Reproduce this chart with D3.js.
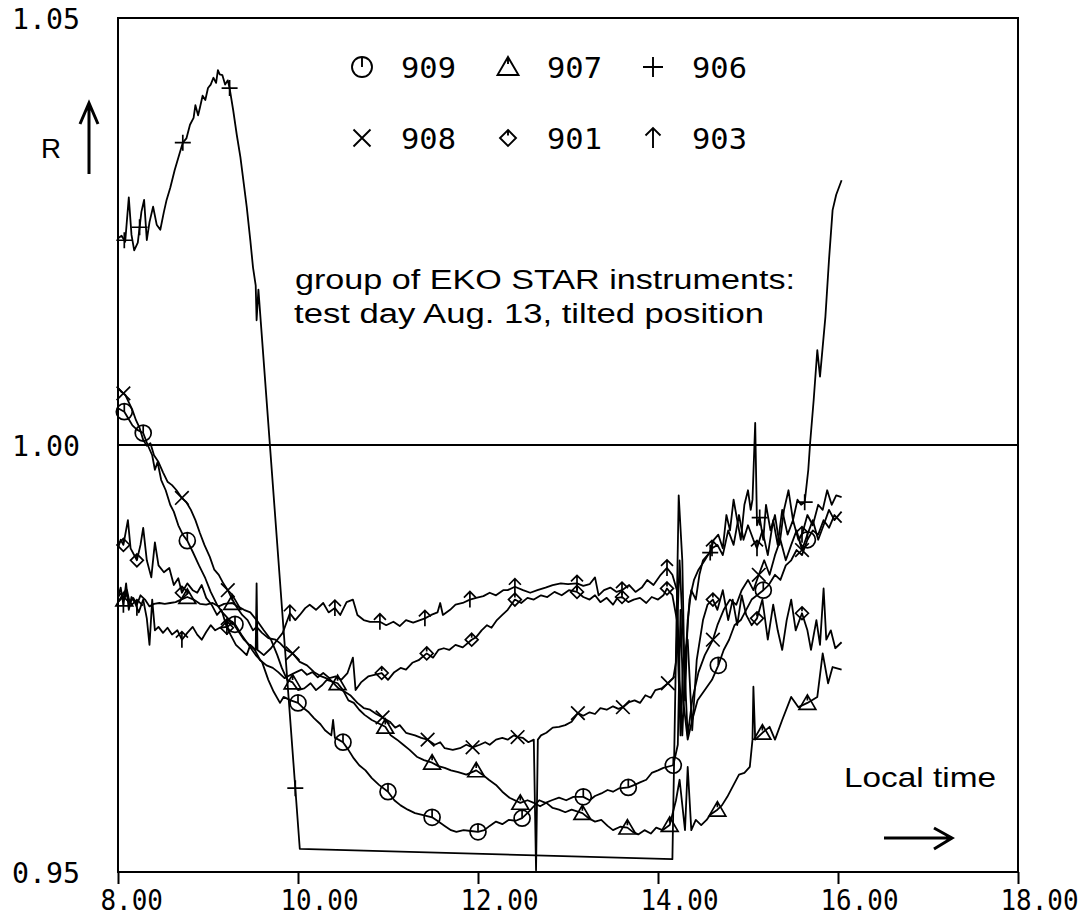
<!DOCTYPE html>
<html>
<head>
<meta charset="utf-8">
<script src="https://cdn.jsdelivr.net/npm/d3@7"></script>
<style>
  body { margin: 0; background: #fff; }
  svg { display: block; }
</style>
</head>
<body>
<div id="chart"></div>
<script>
////////////////////////////////////////////////////////////////////
////////////////////////////  Data  ////////////////////////////////

// [local time (h), R]
const s909 = [[8.00,1.0043],[8.07,1.0039],[8.11,1.0032],[8.16,1.0023],[8.21,1.0018],[8.28,1.0014],[8.33,1.0000],[8.38,0.9988],[8.41,0.9971],[8.44,0.9980],[8.48,0.9959],[8.53,0.9947],[8.58,0.9930],[8.62,0.9922],[8.67,0.9906],[8.72,0.9895],[8.77,0.9888],[8.83,0.9875],[8.90,0.9859],[8.97,0.9844],[9.03,0.9828],[9.10,0.9813],[9.16,0.9804],[9.24,0.9795],[9.30,0.9790],[9.37,0.9778],[9.45,0.9766],[9.53,0.9754],[9.60,0.9746],[9.67,0.9725],[9.73,0.9711],[9.80,0.9698],[9.84,0.9705],[9.92,0.9701],[10.00,0.9698],[10.06,0.9692],[10.12,0.9687],[10.18,0.9680],[10.25,0.9673],[10.30,0.9666],[10.37,0.9660],[10.39,0.9678],[10.41,0.9657],[10.45,0.9655],[10.50,0.9652],[10.56,0.9643],[10.62,0.9633],[10.68,0.9625],[10.75,0.9619],[10.82,0.9610],[10.90,0.9602],[11.00,0.9594],[11.07,0.9584],[11.14,0.9578],[11.22,0.9573],[11.30,0.9569],[11.38,0.9567],[11.49,0.9564],[11.56,0.9559],[11.63,0.9554],[11.70,0.9549],[11.76,0.9547],[11.84,0.9549],[11.92,0.9548],[12.00,0.9547],[12.07,0.9549],[12.13,0.9554],[12.20,0.9559],[12.27,0.9556],[12.34,0.9561],[12.42,0.9560],[12.49,0.9563],[12.56,0.9570],[12.62,0.9577],[12.68,0.9584],[12.75,0.9581],[12.82,0.9584],[12.90,0.9587],[12.98,0.9584],[13.06,0.9588],[13.17,0.9588],[13.24,0.9584],[13.30,0.9589],[13.37,0.9592],[13.44,0.9596],[13.50,0.9594],[13.57,0.9598],[13.67,0.9599],[13.74,0.9602],[13.80,0.9605],[13.87,0.9608],[13.93,0.9616],[14.00,0.9619],[14.06,0.9622],[14.17,0.9625],[14.22,0.9649],[14.25,0.9807],[14.28,0.9701],[14.33,0.9655],[14.38,0.9678],[14.44,0.9701],[14.52,0.9713],[14.60,0.9725],[14.67,0.9742],[14.73,0.9760],[14.79,0.9772],[14.85,0.9789],[14.92,0.9795],[14.98,0.9807],[15.04,0.9819],[15.10,0.9824],[15.17,0.9830],[15.23,0.9836],[15.30,0.9848],[15.36,0.9842],[15.42,0.9859],[15.48,0.9865],[15.54,0.9877],[15.60,0.9871],[15.66,0.9889],[15.72,0.9900],[15.78,0.9895],[15.84,0.9912],[15.90,0.9903],[15.96,0.9918],[16.04,0.9909]];

const s907 = [[8.00,0.9822],[8.04,0.9827],[8.07,0.9819],[8.10,0.9830],[8.13,0.9815],[8.17,0.9821],[8.21,0.9813],[8.25,0.9824],[8.30,0.9819],[8.35,0.9811],[8.40,0.9814],[8.46,0.9815],[8.52,0.9814],[8.58,0.9815],[8.64,0.9816],[8.70,0.9819],[8.77,0.9822],[8.84,0.9819],[8.91,0.9814],[8.98,0.9813],[9.05,0.9815],[9.12,0.9811],[9.18,0.9814],[9.27,0.9815],[9.33,0.9811],[9.40,0.9807],[9.47,0.9804],[9.54,0.9795],[9.62,0.9783],[9.70,0.9772],[9.77,0.9754],[9.82,0.9739],[9.88,0.9725],[9.94,0.9722],[10.00,0.9713],[10.07,0.9715],[10.14,0.9721],[10.20,0.9713],[10.27,0.9719],[10.32,0.9725],[10.44,0.9721],[10.50,0.9713],[10.56,0.9701],[10.62,0.9698],[10.68,0.9690],[10.74,0.9684],[10.82,0.9678],[10.97,0.9670],[11.03,0.9660],[11.10,0.9655],[11.17,0.9649],[11.24,0.9643],[11.32,0.9635],[11.40,0.9631],[11.49,0.9628],[11.56,0.9624],[11.63,0.9622],[11.70,0.9619],[11.78,0.9617],[11.87,0.9614],[11.98,0.9619],[12.05,0.9614],[12.12,0.9608],[12.20,0.9602],[12.27,0.9594],[12.35,0.9587],[12.47,0.9581],[12.55,0.9584],[12.62,0.9581],[12.69,0.9577],[12.76,0.9581],[12.83,0.9575],[12.90,0.9573],[12.97,0.9570],[13.04,0.9573],[13.16,0.9569],[13.23,0.9563],[13.30,0.9559],[13.37,0.9561],[13.44,0.9554],[13.50,0.9549],[13.58,0.9553],[13.66,0.9552],[13.72,0.9547],[13.78,0.9544],[13.85,0.9549],[13.92,0.9545],[13.98,0.9552],[14.05,0.9549],[14.13,0.9555],[14.20,0.9584],[14.24,0.9608],[14.30,0.9549],[14.33,0.9623],[14.37,0.9549],[14.42,0.9561],[14.48,0.9555],[14.54,0.9561],[14.58,0.9567],[14.66,0.9573],[14.71,0.9578],[14.77,0.9588],[14.84,0.9602],[14.90,0.9614],[14.96,0.9616],[15.02,0.9623],[15.05,0.9655],[15.06,0.9717],[15.08,0.9655],[15.16,0.9663],[15.24,0.9670],[15.30,0.9655],[15.38,0.9678],[15.48,0.9705],[15.56,0.9693],[15.66,0.9698],[15.77,0.9705],[15.83,0.9756],[15.89,0.9721],[15.94,0.9740],[16.04,0.9737]];

const s906 = [[8.00,1.0242],[8.04,1.0245],[8.08,1.0238],[8.12,1.0290],[8.15,1.0246],[8.18,1.0228],[8.22,1.0237],[8.26,1.0273],[8.29,1.0287],[8.32,1.0240],[8.35,1.0261],[8.39,1.0279],[8.43,1.0258],[8.47,1.0252],[8.51,1.0273],[8.54,1.0287],[8.58,1.0301],[8.63,1.0322],[8.68,1.0340],[8.72,1.0354],[8.76,1.0359],[8.80,1.0375],[8.84,1.0383],[8.86,1.0398],[8.89,1.0386],[8.91,1.0395],[8.94,1.0409],[8.97,1.0404],[9.00,1.0418],[9.03,1.0422],[9.06,1.0430],[9.09,1.0424],[9.11,1.0439],[9.13,1.0434],[9.16,1.0433],[9.19,1.0422],[9.22,1.0427],[9.24,1.0418],[9.28,1.0392],[9.32,1.0363],[9.36,1.0337],[9.40,1.0304],[9.43,1.0279],[9.47,1.0240],[9.50,1.0208],[9.53,1.0187],[9.54,1.0146],[9.56,1.0182],[10.02,0.9527],[14.16,0.9515],[14.23,0.9941],[14.27,0.9865],[14.30,0.9701],[14.33,0.9795],[14.37,0.9830],[14.42,0.9819],[14.46,0.9848],[14.50,0.9865],[14.55,0.9871],[14.58,0.9874],[14.62,0.9889],[14.67,0.9895],[14.72,0.9879],[14.76,0.9918],[14.80,0.9900],[14.84,0.9936],[14.88,0.9912],[14.92,0.9889],[14.96,0.9930],[15.00,0.9947],[15.03,0.9924],[15.05,0.9936],[15.08,1.0026],[15.10,0.9906],[15.13,0.9915],[15.17,0.9889],[15.20,0.9930],[15.25,0.9900],[15.30,0.9918],[15.35,0.9883],[15.40,0.9924],[15.45,0.9947],[15.50,0.9912],[15.55,0.9936],[15.59,0.9930],[15.63,0.9933],[15.67,0.9971],[15.69,1.0002],[15.73,1.0053],[15.77,1.0111],[15.80,1.0080],[15.86,1.0150],[15.90,1.0217],[15.94,1.0275],[15.98,1.0293],[16.04,1.0310]];

const s908 = [[8.00,1.0067],[8.04,1.0062],[8.08,1.0059],[8.12,1.0050],[8.16,1.0041],[8.20,1.0029],[8.24,1.0020],[8.28,1.0006],[8.32,0.9999],[8.36,1.0002],[8.40,0.9988],[8.45,0.9980],[8.50,0.9968],[8.55,0.9957],[8.60,0.9953],[8.65,0.9947],[8.71,0.9938],[8.76,0.9933],[8.81,0.9924],[8.86,0.9912],[8.91,0.9897],[8.96,0.9883],[9.02,0.9869],[9.07,0.9854],[9.12,0.9848],[9.17,0.9838],[9.22,0.9830],[9.27,0.9819],[9.32,0.9810],[9.38,0.9801],[9.44,0.9795],[9.50,0.9783],[9.54,0.9787],[9.60,0.9780],[9.67,0.9774],[9.75,0.9772],[9.80,0.9768],[9.87,0.9760],[9.94,0.9756],[10.02,0.9746],[10.10,0.9742],[10.18,0.9734],[10.26,0.9729],[10.36,0.9725],[10.45,0.9715],[10.52,0.9711],[10.58,0.9707],[10.66,0.9698],[10.73,0.9692],[10.80,0.9690],[10.87,0.9685],[10.94,0.9681],[11.02,0.9676],[11.08,0.9669],[11.13,0.9672],[11.20,0.9663],[11.30,0.9660],[11.37,0.9657],[11.44,0.9655],[11.52,0.9649],[11.58,0.9652],[11.63,0.9645],[11.72,0.9643],[11.80,0.9645],[11.87,0.9649],[11.94,0.9646],[12.02,0.9649],[12.08,0.9652],[12.13,0.9649],[12.20,0.9655],[12.27,0.9657],[12.33,0.9655],[12.40,0.9660],[12.44,0.9658],[12.50,0.9657],[12.56,0.9652],[12.62,0.9655],[12.645,0.9502],[12.665,0.9655],[12.70,0.9660],[12.76,0.9663],[12.83,0.9669],[12.90,0.9670],[12.97,0.9672],[13.04,0.9676],[13.11,0.9686],[13.17,0.9683],[13.24,0.9687],[13.30,0.9685],[13.36,0.9692],[13.43,0.9690],[13.50,0.9694],[13.56,0.9691],[13.61,0.9693],[13.68,0.9699],[13.74,0.9701],[13.80,0.9698],[13.86,0.9707],[13.92,0.9704],[13.97,0.9713],[14.04,0.9715],[14.11,0.9721],[14.17,0.9727],[14.20,0.9746],[14.24,0.9865],[14.28,0.9772],[14.33,0.9660],[14.38,0.9701],[14.45,0.9734],[14.52,0.9754],[14.61,0.9772],[14.66,0.9789],[14.73,0.9807],[14.80,0.9819],[14.87,0.9813],[14.93,0.9830],[15.00,0.9842],[15.06,0.9830],[15.12,0.9848],[15.18,0.9865],[15.24,0.9848],[15.30,0.9871],[15.36,0.9889],[15.42,0.9865],[15.48,0.9883],[15.54,0.9900],[15.60,0.9877],[15.66,0.9895],[15.72,0.9912],[15.78,0.9889],[15.84,0.9906],[15.90,0.9924],[15.96,0.9912],[16.04,0.9922]];

const s901 = [[8.00,0.9879],[8.03,0.9889],[8.06,0.9883],[8.11,0.9912],[8.14,0.9879],[8.21,0.9865],[8.25,0.9883],[8.28,0.9903],[8.32,0.9865],[8.37,0.9845],[8.41,0.9886],[8.45,0.9859],[8.51,0.9851],[8.57,0.9856],[8.62,0.9836],[8.67,0.9844],[8.71,0.9827],[8.77,0.9838],[8.83,0.9830],[8.88,0.9827],[8.93,0.9836],[8.98,0.9821],[9.04,0.9813],[9.10,0.9801],[9.15,0.9807],[9.21,0.9786],[9.27,0.9793],[9.33,0.9783],[9.40,0.9772],[9.46,0.9766],[9.52,0.9760],[9.58,0.9748],[9.65,0.9742],[9.72,0.9739],[9.78,0.9734],[9.85,0.9727],[9.92,0.9731],[9.98,0.9734],[10.04,0.9737],[10.10,0.9731],[10.16,0.9734],[10.22,0.9728],[10.28,0.9733],[10.35,0.9727],[10.42,0.9729],[10.48,0.9725],[10.55,0.9733],[10.61,0.9751],[10.64,0.9713],[10.70,0.9722],[10.78,0.9729],[10.86,0.9731],[10.93,0.9733],[11.00,0.9725],[11.07,0.9734],[11.14,0.9739],[11.20,0.9737],[11.27,0.9745],[11.34,0.9748],[11.43,0.9756],[11.50,0.9751],[11.56,0.9760],[11.62,0.9762],[11.68,0.9760],[11.75,0.9766],[11.83,0.9763],[11.93,0.9772],[11.98,0.9775],[12.04,0.9783],[12.10,0.9789],[12.15,0.9786],[12.21,0.9795],[12.27,0.9801],[12.33,0.9807],[12.41,0.9819],[12.48,0.9815],[12.55,0.9821],[12.62,0.9819],[12.70,0.9824],[12.77,0.9822],[12.85,0.9828],[12.93,0.9824],[13.01,0.9830],[13.10,0.9828],[13.17,0.9822],[13.24,0.9819],[13.30,0.9824],[13.36,0.9816],[13.43,0.9821],[13.50,0.9813],[13.55,0.9821],[13.60,0.9822],[13.67,0.9816],[13.73,0.9819],[13.80,0.9821],[13.87,0.9815],[13.93,0.9822],[14.00,0.9819],[14.06,0.9824],[14.10,0.9832],[14.16,0.9824],[14.21,0.9795],[14.25,0.9660],[14.28,0.9748],[14.33,0.9772],[14.38,0.9666],[14.43,0.9748],[14.50,0.9795],[14.55,0.9813],[14.61,0.9819],[14.66,0.9807],[14.72,0.9830],[14.78,0.9795],[14.83,0.9819],[14.88,0.9789],[14.93,0.9824],[14.98,0.9801],[15.04,0.9789],[15.10,0.9797],[15.16,0.9819],[15.22,0.9772],[15.28,0.9813],[15.33,0.9783],[15.38,0.9760],[15.43,0.9795],[15.48,0.9819],[15.53,0.9783],[15.60,0.9803],[15.66,0.9783],[15.70,0.9760],[15.76,0.9795],[15.80,0.9766],[15.84,0.9832],[15.87,0.9772],[15.92,0.9783],[15.97,0.9762],[16.04,0.9769]];

const s903 = [[8.00,0.9822],[8.03,0.9833],[8.06,0.9813],[8.09,0.9838],[8.12,0.9807],[8.15,0.9822],[8.19,0.9815],[8.23,0.9804],[8.28,0.9819],[8.32,0.9797],[8.35,0.9766],[8.38,0.9819],[8.41,0.9783],[8.45,0.9787],[8.50,0.9780],[8.55,0.9786],[8.60,0.9778],[8.66,0.9783],[8.71,0.9772],[8.77,0.9780],[8.83,0.9787],[8.88,0.9778],[8.93,0.9772],[8.98,0.9781],[9.03,0.9789],[9.08,0.9783],[9.13,0.9786],[9.21,0.9787],[9.25,0.9778],[9.31,0.9766],[9.37,0.9760],[9.43,0.9754],[9.47,0.9766],[9.53,0.9760],[9.54,0.9838],[9.55,0.9760],[9.62,0.9754],[9.70,0.9762],[9.77,0.9772],[9.83,0.9780],[9.91,0.9803],[9.97,0.9795],[10.02,0.9801],[10.08,0.9809],[10.13,0.9813],[10.20,0.9807],[10.28,0.9815],[10.34,0.9804],[10.41,0.9809],[10.47,0.9801],[10.54,0.9816],[10.61,0.9819],[10.66,0.9801],[10.73,0.9795],[10.80,0.9793],[10.91,0.9793],[10.98,0.9789],[11.06,0.9793],[11.13,0.9788],[11.20,0.9795],[11.28,0.9792],[11.41,0.9797],[11.48,0.9801],[11.55,0.9804],[11.58,0.9815],[11.61,0.9801],[11.69,0.9807],[11.75,0.9813],[11.83,0.9815],[11.91,0.9819],[11.98,0.9821],[12.06,0.9823],[12.13,0.9827],[12.20,0.9824],[12.28,0.9830],[12.33,0.9830],[12.41,0.9834],[12.50,0.9830],[12.58,0.9827],[12.66,0.9830],[12.75,0.9833],[12.83,0.9836],[12.92,0.9838],[13.00,0.9837],[13.10,0.9838],[13.17,0.9835],[13.24,0.9837],[13.30,0.9845],[13.34,0.9824],[13.40,0.9830],[13.47,0.9833],[13.54,0.9828],[13.60,0.9830],[13.68,0.9836],[13.75,0.9828],[13.82,0.9833],[13.88,0.9842],[13.95,0.9836],[14.03,0.9848],[14.10,0.9856],[14.16,0.9848],[14.21,0.9830],[14.24,0.9725],[14.27,0.9660],[14.31,0.9760],[14.35,0.9819],[14.40,0.9842],[14.45,0.9854],[14.52,0.9865],[14.60,0.9879],[14.66,0.9883],[14.72,0.9871],[14.78,0.9900],[14.84,0.9883],[14.90,0.9918],[14.95,0.9889],[15.00,0.9906],[15.06,0.9889],[15.10,0.9879],[15.16,0.9900],[15.22,0.9871],[15.28,0.9912],[15.33,0.9883],[15.38,0.9924],[15.44,0.9895],[15.50,0.9912],[15.56,0.9889],[15.60,0.9895],[15.66,0.9918],[15.72,0.9906],[15.78,0.9930],[15.83,0.9924],[15.88,0.9947],[15.93,0.9930],[15.98,0.9941],[16.04,0.9939]];

// times at which the plotter put a symbol on each curve
const m909 = [8.07, 8.28, 8.77, 9.30, 10.00, 10.50, 11.00, 11.49, 12.00, 12.49, 13.17, 13.67, 14.17, 14.67, 15.17, 15.66];
const m907 = [8.07, 8.77, 9.27, 9.94, 10.44, 10.97, 11.49, 11.98, 12.47, 13.16, 13.66, 14.13, 14.66, 15.16, 15.66];
const m906 = [8.07, 8.24, 8.72, 9.24, 9.97, 14.58, 15.13, 15.63];
const m908 = [8.06, 8.71, 9.22, 9.94, 10.94, 11.44, 11.94, 12.44, 13.11, 13.61, 14.11, 14.61, 15.12, 15.60];
const m901 = [8.06, 8.21, 8.71, 9.21, 10.93, 11.43, 11.93, 12.41, 13.10, 13.60, 14.10, 14.61, 15.10, 15.60];
const m903 = [8.06, 8.21, 8.71, 9.21, 9.91, 10.41, 10.91, 11.41, 11.91, 12.41, 13.10, 13.60, 14.10, 14.60, 15.10, 15.60];

const xTicks = [8, 10, 12, 14, 16, 18];
const yTicks = [0.95, 1.00, 1.05];
const legendRows = [["909", "907", "906"], ["908", "901", "903"]];

////////////////////////////////////////////////////////////////////
////////////////////////////  Init  ////////////////////////////////

const width = 1086, height = 916;
const frame = { left: 118, right: 1018, top: 18, bottom: 872 };

const svg = d3.select("#chart").append("svg")
  .attr("width", width).attr("height", height);

const x = d3.scaleLinear().domain([8, 18]).range([frame.left, frame.right]);
const y = d3.scaleLinear().domain([0.95, 1.05]).range([frame.bottom, frame.top]);

const monoFont = "'DejaVu Sans Mono', monospace";
const sansFont = "'Liberation Sans', Arial, sans-serif";

// plotter symbols, s = half size
const shapes = {
  circleTick: s => {
    const p = d3.path();
    p.moveTo(s, 0); p.arc(0, 0, s, 0, 2 * Math.PI);
    p.moveTo(0, -s); p.lineTo(0, 0);
    return p.toString();
  },
  triangle: s => `M0,${-s}L${s * 1.05},${s * 0.8}L${-s * 1.05},${s * 0.8}ZM0,${-s}L0,${-s * 0.3}`,
  plus: s => `M${-s},0H${s}M0,${-s}V${s}`,
  cross: s => `M${-s * 0.85},${-s * 0.85}L${s * 0.85},${s * 0.85}M${-s * 0.85},${s * 0.85}L${s * 0.85},${-s * 0.85}`,
  diamond: s => `M0,${-s * 0.8}L${s * 0.8},0L0,${s * 0.8}L${-s * 0.8},0ZM0,${-s * 0.8}L0,${-s * 0.25}`,
  arrowUp: s => `M0,${s}V${-s}M${-s * 0.75},${-s * 0.25}L0,${-s}L${s * 0.75},${-s * 0.25}`
};

const series = [
  { name: "909", data: s909, marks: m909, shape: "circleTick" },
  { name: "907", data: s907, marks: m907, shape: "triangle" },
  { name: "906", data: s906, marks: m906, shape: "plus" },
  { name: "908", data: s908, marks: m908, shape: "cross" },
  { name: "901", data: s901, marks: m901, shape: "diamond" },
  { name: "903", data: s903, marks: m903, shape: "arrowUp" }
];

const bisect = d3.bisector(d => d[0]).left;
const valueAt = (data, t) => {
  const i = Math.max(1, Math.min(data.length - 1, bisect(data, t)));
  const a = data[i - 1], b = data[i];
  const k = Math.max(0, Math.min(1, (t - a[0]) / (b[0] - a[0])));
  return a[1] + k * (b[1] - a[1]);
};

////////////////////////////////////////////////////////////////////
////////////////////////////  Axes  ////////////////////////////////

// x axis
const xAxis = svg.append("g")
  .attr("transform", `translate(0, ${frame.bottom})`)
  .call(d3.axisBottom(x).tickValues(xTicks).tickSize(12).tickFormat(d3.format(".2f")));
xAxis.select(".domain").remove();
xAxis.selectAll(".tick line").attr("stroke", "#000").attr("stroke-width", 2);
xAxis.selectAll(".tick text")
  .attr("x", -18).attr("y", 38).attr("dy", null)
  .attr("text-anchor", "start")
  .attr("font-family", monoFont).attr("font-size", 28).attr("fill", "#000")
  .attr("textLength", d => d3.format(".2f")(d).length * 15.6)
  .attr("lengthAdjust", "spacingAndGlyphs");

// y axis
const yAxis = svg.append("g")
  .attr("transform", `translate(${frame.left}, 0)`)
  .call(d3.axisLeft(y).tickValues(yTicks).tickSize(0).tickFormat(d3.format(".2f")));
yAxis.select(".domain").remove();
yAxis.selectAll(".tick text")
  .attr("x", -38).attr("dy", "0.37em")
  .attr("text-anchor", "end")
  .attr("font-family", monoFont).attr("font-size", 28).attr("fill", "#000")
  .attr("textLength", 68)
  .attr("lengthAdjust", "spacingAndGlyphs");

// frame and R = 1 reference line
svg.append("rect")
  .attr("x", frame.left).attr("y", frame.top)
  .attr("width", frame.right - frame.left).attr("height", frame.bottom - frame.top)
  .attr("fill", "none").attr("stroke", "#000").attr("stroke-width", 2);

svg.append("line")
  .attr("x1", frame.left).attr("x2", frame.right)
  .attr("y1", y(1)).attr("y2", y(1))
  .attr("stroke", "#000").attr("stroke-width", 1.8);

////////////////////////////////////////////////////////////////////
////////////////////////////  Curves  //////////////////////////////

const line = d3.line().x(d => x(d[0])).y(d => y(d[1]));

const g = svg.append("g");

g.selectAll(".curve")
  .data(series)
  .enter()
  .append("path")
  .attr("class", "curve")
  .attr("d", d => line(d.data))
  .attr("fill", "none")
  .attr("stroke", "#000")
  .attr("stroke-width", 1.8)
  .attr("stroke-linejoin", "round");

series.forEach(s => {
  g.selectAll(null)
    .data(s.marks)
    .enter()
    .append("path")
    .attr("transform", t => `translate(${x(t)}, ${y(valueAt(s.data, t))})`)
    .attr("d", shapes[s.shape](8))
    .attr("fill", "none")
    .attr("stroke", "#000")
    .attr("stroke-width", 1.7);
});

////////////////////////////////////////////////////////////////////
////////////////////////////  Legend & text  ///////////////////////

const legendX = [362, 508, 653];
const legendY = [67, 138];
legendRows.forEach((row, r) => {
  row.forEach((name, c) => {
    const s = series.find(d => d.name === name);
    svg.append("path")
      .attr("transform", `translate(${legendX[c]}, ${legendY[r]})`)
      .attr("d", shapes[s.shape](10))
      .attr("fill", "none").attr("stroke", "#000").attr("stroke-width", 1.9);
    svg.append("text")
      .attr("x", legendX[c] + 39).attr("y", legendY[r] + 11)
      .attr("font-family", monoFont).attr("font-size", 29)
      .attr("textLength", 55).attr("lengthAdjust", "spacingAndGlyphs")
      .text(name);
  });
});

// R label with arrow
svg.append("text")
  .attr("x", 41).attr("y", 158)
  .attr("font-family", sansFont).attr("font-size", 27)
  .attr("textLength", 20).attr("lengthAdjust", "spacingAndGlyphs")
  .text("R");
svg.append("path")
  .attr("d", "M89,174V104M80,124L89,103L98,124")
  .attr("fill", "none").attr("stroke", "#000").attr("stroke-width", 3);

// annotation
const note = svg.append("g")
  .attr("font-family", sansFont).attr("font-size", 27).attr("fill", "#000");
note.append("text")
  .attr("x", 295).attr("y", 289)
  .attr("textLength", 500).attr("lengthAdjust", "spacingAndGlyphs")
  .text("group of EKO STAR instruments:");
note.append("text")
  .attr("x", 294).attr("y", 323)
  .attr("textLength", 470).attr("lengthAdjust", "spacingAndGlyphs")
  .text("test day Aug. 13, tilted position");

// time axis caption
svg.append("text")
  .attr("x", 844).attr("y", 787)
  .attr("font-family", sansFont).attr("font-size", 28)
  .attr("textLength", 152).attr("lengthAdjust", "spacingAndGlyphs")
  .text("Local time");
svg.append("path")
  .attr("d", "M884,838H951M934,828L952,838L934,849")
  .attr("fill", "none").attr("stroke", "#000").attr("stroke-width", 3);
</script>
</body>
</html>
